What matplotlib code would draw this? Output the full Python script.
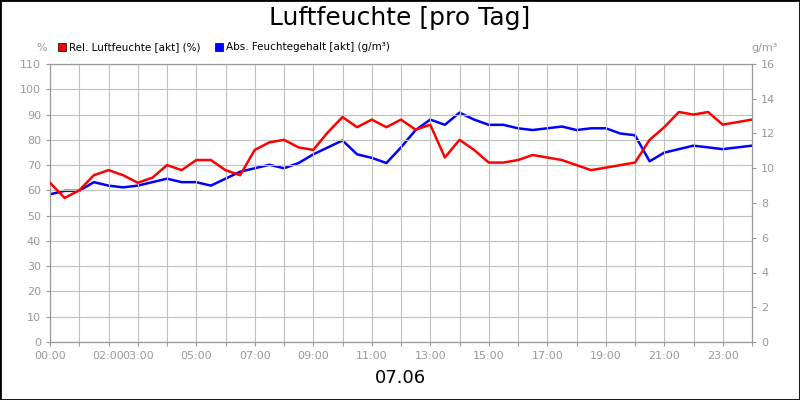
import matplotlib
matplotlib.use("Agg")
import matplotlib.pyplot as plt
from matplotlib.patches import Rectangle

hours = [i * 0.5 for i in range(49)]
rel_humidity = [63, 57, 60, 66, 68, 66, 63, 65, 70, 68, 72, 72, 68, 66, 76, 79, 80, 77, 76, 83,
                89, 85, 88, 85, 88, 84, 86, 73, 80, 76, 71, 71, 72, 74, 73, 72, 70, 68, 69, 70,
                71, 80, 85, 91, 90, 91, 86, 87, 88]
abs_humidity = [8.5, 8.7, 8.7, 9.2, 9.0, 8.9, 9.0, 9.2, 9.4, 9.2, 9.2, 9.0, 9.4, 9.8, 10.0, 10.2,
                10.0, 10.3, 10.8, 11.2, 11.6, 10.8, 10.6, 10.3, 11.2, 12.2, 12.8, 12.5, 13.2, 12.8,
                12.5, 12.5, 12.3, 12.2, 12.3, 12.4, 12.2, 12.3, 12.3, 12.0, 11.9, 10.4, 10.9, 11.1,
                11.3, 11.2, 11.1, 11.2, 11.3]
tick_hours = [0, 2, 3, 5, 7, 9, 11, 13, 15, 17, 19, 21, 23]
tick_labels = ["00:00", "02:00", "03:00", "05:00", "07:00", "09:00", "11:00", "13:00",
               "15:00", "17:00", "19:00", "21:00", "23:00"]

fig = plt.figure(figsize=(8, 4), dpi=100)
fig.patches.append(Rectangle((0, 0), 1, 1, transform=fig.transFigure, fill=False,
                             edgecolor="black", linewidth=2))
ax = fig.add_axes([50/800, 58/400, 702/800, 278/400])
ax2 = ax.twinx()
gc = "#999999"
ax.plot(hours, rel_humidity, color="#ff0000", lw=1.8, zorder=3)
ax2.plot(hours, abs_humidity, color="#0000ff", lw=1.8, zorder=3)
ax.set_xlim(0, 24)
ax.set_ylim(0, 110)
ax2.set_ylim(0, 16)
ax.set_yticks(range(0, 111, 10))
ax2.set_yticks(range(0, 17, 2))
ax.set_xticks(range(0, 25), minor=False)
ax.set_xticklabels([tick_labels[tick_hours.index(h)] if h in tick_hours else "" for h in range(25)])
ax.grid(True, color="#c0c0c0", lw=0.8)
for a in (ax, ax2):
    a.tick_params(colors=gc, labelsize=8, length=3)
    for s in a.spines.values():
        s.set_color(gc)
ax.set_zorder(2); ax.patch.set_visible(False)
ax2.set_zorder(1)
fig.text(0.5, 0.955, "Luftfeuchte [pro Tag]", ha="center", va="center", fontsize=18)
fig.text(0.5, 0.055, "07.06", ha="center", va="center", fontsize=13)
fig.text(42/800, 352/400, "%", ha="center", va="center", fontsize=8, color=gc)
fig.text(765/800, 352/400, "g/m³", ha="center", va="center", fontsize=8, color=gc)
fig.patches.append(Rectangle((58/800, 349/400), 8/800, 8/400, transform=fig.transFigure,
                             facecolor="#ff0000", edgecolor="black", lw=0.5))
fig.text(69/800, 353/400, "Rel. Luftfeuchte [akt] (%)", va="center", fontsize=7.5)
fig.patches.append(Rectangle((215/800, 349/400), 8/800, 8/400, transform=fig.transFigure,
                             facecolor="#0000ff", edgecolor="black", lw=0.5))
fig.text(226/800, 353/400, "Abs. Feuchtegehalt [akt] (g/m³)", va="center", fontsize=7.5)
fig.savefig("out.png", dpi=100)
